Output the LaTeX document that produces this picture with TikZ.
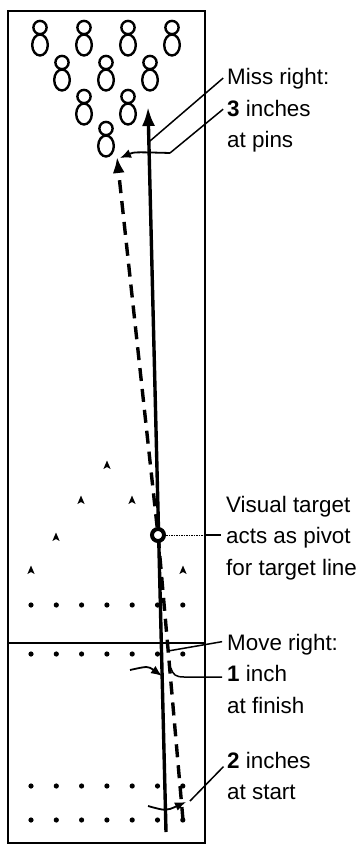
\documentclass[tikz,border=0pt]{standalone}
\usepackage{fontspec}
\setmainfont{Liberation Sans}
\usetikzlibrary{arrows.meta,calc,positioning}

\tikzset{
  bowlpin/.pic={
    \draw[line width=2.4pt,fill=white] (0,8) ellipse [x radius=7.8,y radius=10.5];
    \draw[line width=2.4pt,fill=white] (0,-9.5) circle [radius=6.6];
  },
  lbl/.style={anchor=base west,inner sep=0pt,font=\fontsize{22.4}{27}\selectfont},
  leader/.style={line width=1.5pt},
  ballpath/.style={line width=3.4pt,-{Latex[length=19pt,width=13pt]}},
  shift arrow/.style={line width=1.8pt,-{Latex[length=11pt,width=9pt]}}
}

\begin{document}
\begin{tikzpicture}[x=1pt,y=-1pt]
    \useasboundingbox (0,0) rectangle (362,845);

    % Lane and foul line
    \coordinate (laneNW) at (8,11);
    \coordinate (laneSE) at (205,843);
    \draw[line width=1.5pt] (laneNW) rectangle (laneSE);
    \draw[line width=1.3pt] (8,643) -- (205,643);

    % Pins
    \foreach \x/\y in {40/37,84/37,128/37,172/37,62/72,106/72,150/72,84/106,128/106,106/138}
        \pic at (\x,\y) {bowlpin};

    % Range finder arrows and dots
    \foreach \x/\y in {31/570,56/537,81/500,107/465,132/500,157/537,183/570}
        \fill (\x,\y) ++(0,-4.5) -- ++(3.6,8.5) -- ++(-3.6,-2) -- ++(-3.6,2) -- cycle;
    \foreach \y in {605,654,786,820}
        \foreach \k in {0,...,6}
            \fill (31+25.3*\k,\y) circle [radius=2.6];

    % Target line (solid) and ball path (dashed)
    \coordinate (solidS) at (166,832);
    \coordinate (solidE) at (148,107);
    \coordinate (dashS) at (183,820);
    \coordinate (dashE) at (117,157);
    \coordinate (pv) at (158,535);
    \draw[ballpath] (solidS) -- (solidE);
    \draw[line width=3.4pt,dash pattern=on 13pt off 8pt,-{Latex[length=16pt,width=12pt]}]
        (dashS) -- (pv) -- (dashE);
    \node[circle,draw,fill=white,line width=4pt,minimum size=12pt,inner sep=0pt] (pivot) at (pv) {};

    % Labels
    \node[lbl] (miss1) at (227,85) {Miss right:};
    \node[lbl] (miss2) at (227,116.5) {\textbf{3} inches};
    \node[lbl] (miss3) at (227,148) {at pins};
    \node[lbl] (piv1) at (226,512) {Visual target};
    \node[lbl] (piv2) at (226,543.5) {acts as pivot};
    \node[lbl] (piv3) at (226,575) {for target line};
    \node[lbl] (move1) at (227,650) {Move right:};
    \node[lbl] (move2) at (227,681.5) {\textbf{1} inch};
    \node[lbl] (move3) at (227,713) {at finish};
    \node[lbl] (start1) at (227,768) {\textbf{2} inches};
    \node[lbl] (start2) at (227,799) {at start};

    % Shift arrows
    \coordinate (pinsAt) at (170,153);
    \coordinate (pinsTip) at (120,158);
    \draw[shift arrow] (pinsAt) .. controls (134,152) .. (pinsTip);
    \coordinate (finL) at (130,670);
    \coordinate (finTip) at (162,676);
    \draw[shift arrow] (finL) .. controls (148,666) .. (finTip);
    \coordinate (stL) at (148,806);
    \coordinate (stTip) at (186,802);
    \draw[shift arrow] (stL) .. controls (166,811) .. (stTip);

    % Leaders
    \coordinate (missAt) at (150,141);
    \draw[leader,shorten >=5pt] (missAt) -- ([yshift=4.4pt]miss1.west);
    \draw[leader,shorten >=5pt] (pinsAt) -- ([yshift=2.5pt]miss2.west);
    \draw[leader,densely dotted,line width=1pt] (pivot.east) -- (pivot -| laneSE) coordinate (pivEdge);
    \draw[leader,shorten >=5pt] (pivEdge) -- (pivEdge -| piv2.west);
    \coordinate (moveAt) at (168,651);
    \draw[leader,shorten >=5pt] (moveAt) -- ([yshift=3.4pt]move1.west);
    \coordinate (finAt) at (171,668);
    \draw[leader,shorten >=5pt] (finAt) .. controls (173,675) and (176,677) .. (184,677)
        -- ([yshift=-3.5pt]move2.west);
    \coordinate (startAt) at (190,801);
    \draw[leader,shorten >=5pt] (startAt) -- ([yshift=-3pt]start1.west);
\end{tikzpicture}
\end{document}
